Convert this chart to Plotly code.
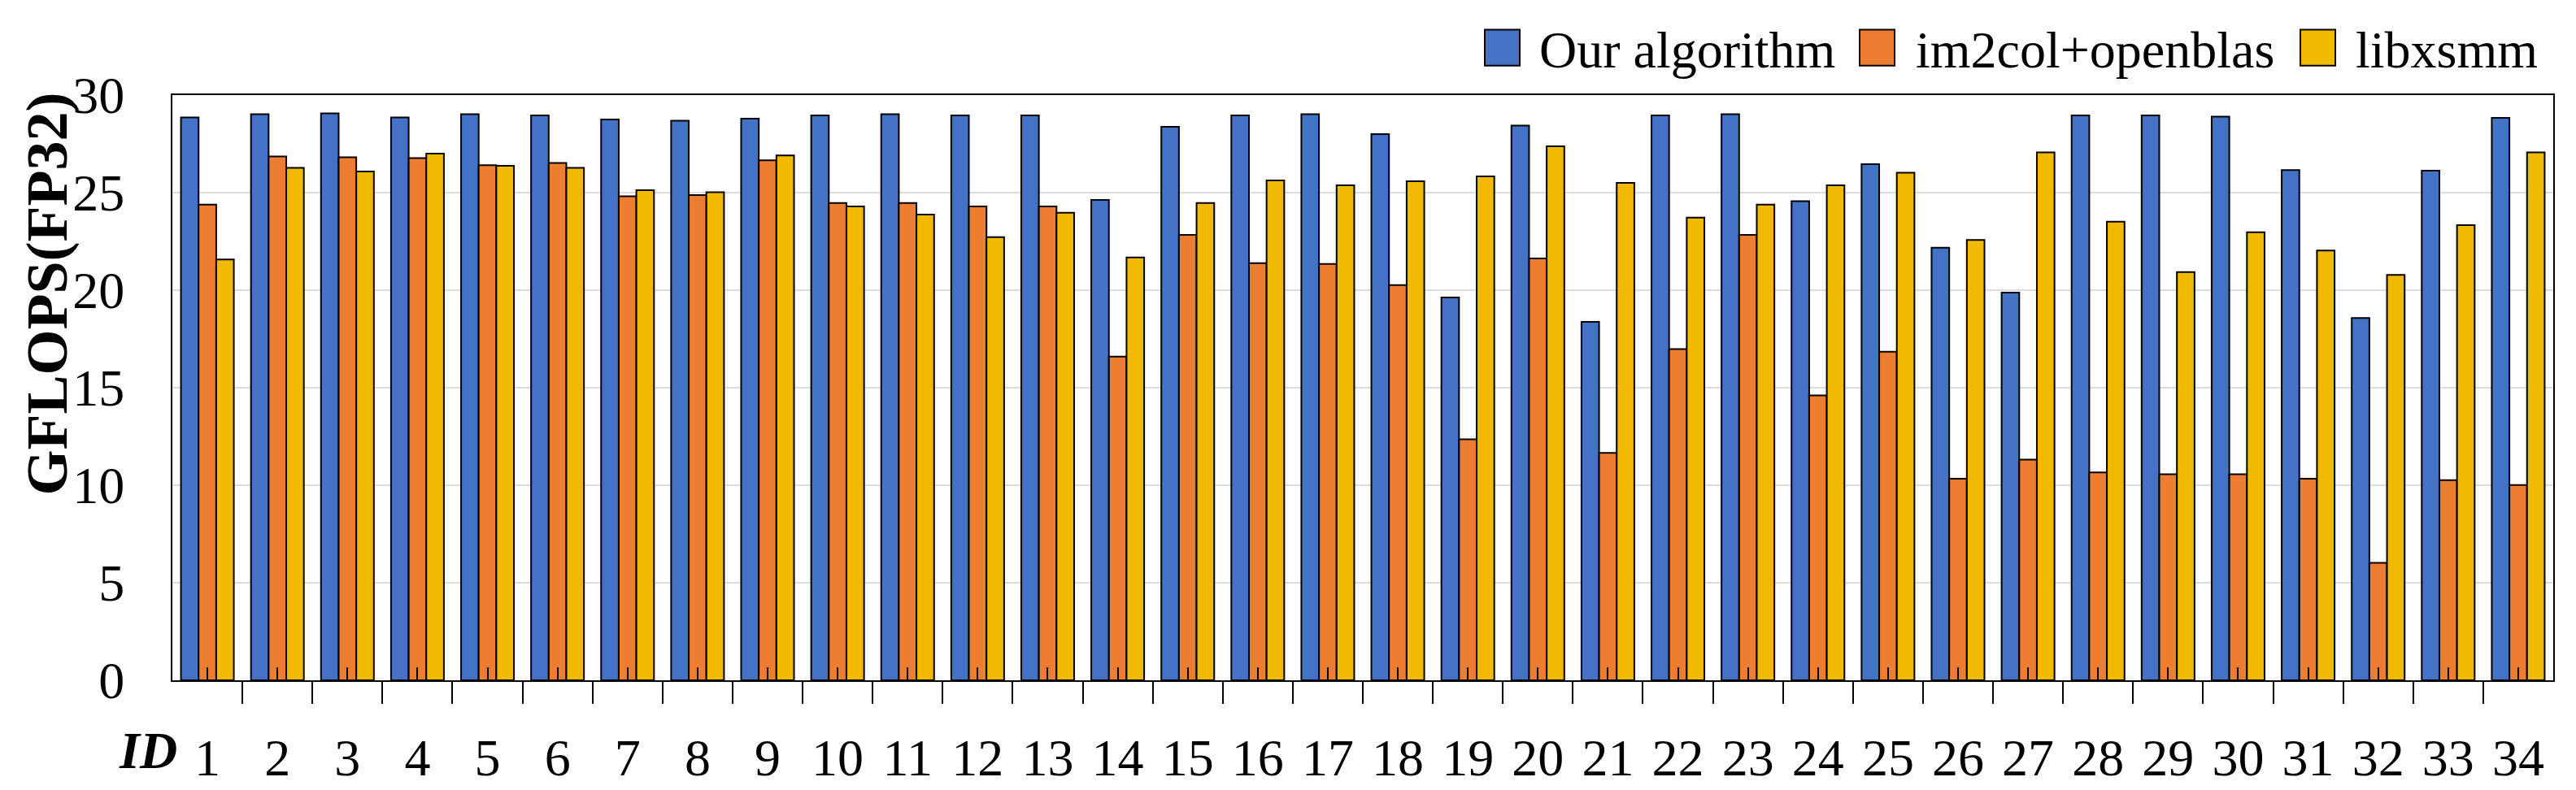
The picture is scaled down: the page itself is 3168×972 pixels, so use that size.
import plotly.graph_objects as go

ids = [str(i) for i in range(1, 35)]
series_names = ["Our algorithm", "im2col+openblas", "libxsmm"]
ours = [28.85, 29.02, 29.06, 28.85, 29.02, 28.96, 28.75, 28.69, 28.79, 28.96,
        29.02, 28.96, 28.96, 24.62, 28.38, 28.96, 29.02, 28.00, 19.63, 28.44,
        18.38, 28.96, 29.02, 24.56, 26.46, 22.18, 19.88, 28.96, 28.96, 28.90,
        26.16, 18.57, 26.12, 28.83]
im2col = [24.39, 26.85, 26.81, 26.77, 26.41, 26.52, 24.81, 24.87, 26.66, 24.47,
          24.47, 24.29, 24.29, 16.59, 22.83, 21.39, 21.34, 20.26, 12.35, 21.62,
          11.66, 16.98, 22.83, 14.60, 16.84, 10.33, 11.31, 10.66, 10.56, 10.56,
          10.33, 6.02, 10.26, 10.01]
libxsmm = [21.57, 26.27, 26.08, 27.00, 26.37, 26.27, 25.12, 25.02, 26.91, 24.29,
           23.87, 22.72, 23.97, 21.68, 24.47, 25.62, 25.37, 25.58, 25.83, 27.37,
           25.50, 23.72, 24.39, 25.37, 26.02, 22.57, 27.06, 23.51, 20.93, 22.97,
           22.03, 20.78, 23.33, 27.06]
y_ticks = [0, 5, 10, 15, 20, 25, 30]

colors = ["#4472C4", "#ED7D31", "#F1B900"]
FONT = "Liberation Serif"

W, H = 3168, 972
L, R, T, B = 204, 36, 109, 130
PW, PH = W - L - R, H - T - B


def px(x):
    return (x - L) / PW


def py(y):
    return (H - B - y) / PH


xnum = list(range(1, len(ids) + 1))
fig = go.Figure()
for name, vals, col in zip(series_names, [ours, im2col, libxsmm], colors):
    fig.add_trace(go.Bar(x=xnum, y=vals, name=name, marker=dict(color=col, line=dict(color="black", width=2)),
                         showlegend=False))

boundaries = [i + 0.5 for i in range(0, len(ids) + 1)]

fig.update_layout(
    width=W, height=H,
    margin=dict(l=L, r=R, t=T, b=B),
    paper_bgcolor="white", plot_bgcolor="white",
    barmode="group", bargap=0.245, bargroupgap=0,
    font=dict(family=FONT, size=64, color="black"),
    xaxis=dict(range=[0.5, len(ids) + 0.5], tickmode="array", tickvals=xnum, ticktext=ids,
               ticks="inside", ticklen=16, tickwidth=2, tickcolor="black",
               showline=True, linecolor="black", linewidth=2, mirror=True,
               showgrid=False, zeroline=False, ticklabelstandoff=38,
               tickfont=dict(family=FONT, size=64),
               minor=dict(tickmode="array", tickvals=boundaries, ticks="outside", ticklen=27,
                          tickwidth=2, tickcolor="black", showgrid=False)),
    yaxis=dict(range=[0, 30], tickmode="array", tickvals=y_ticks, ticks="",
               showline=True, linecolor="black", linewidth=2, mirror=True,
               showgrid=True, gridcolor="#DDDDDD", gridwidth=2, zeroline=False,
               ticklabelstandoff=44, tickfont=dict(family=FONT, size=64)),
)

# Y axis title
fig.add_annotation(xref="paper", yref="paper", x=px(50), y=py(358), text="<b>GFLOPS(FP32)</b>",
                   textangle=-90, showarrow=False, font=dict(family=FONT, size=72),
                   xanchor="center", yanchor="middle")
# "ID" label
fig.add_annotation(xref="paper", yref="paper", x=px(136), y=py(930), text="<b><i>ID</i></b>",
                   showarrow=False, font=dict(family=FONT, size=64), xanchor="left", yanchor="middle")

# Custom legend
leg_swatch_x = [1818, 2279, 2821]
leg_text_x = [1883, 2346, 2887]
for name, col, sx, tx in zip(series_names, colors, leg_swatch_x, leg_text_x):
    fig.add_shape(type="rect", xref="paper", yref="paper", x0=px(sx), x1=px(sx + 43), y0=py(72), y1=py(27),
                  fillcolor=col, line=dict(color="black", width=2))
    fig.add_annotation(xref="paper", yref="paper", x=px(tx), y=py(52), text=name, showarrow=False,
                       font=dict(family=FONT, size=64), xanchor="left", yanchor="middle")

fig.write_html("out.html")
